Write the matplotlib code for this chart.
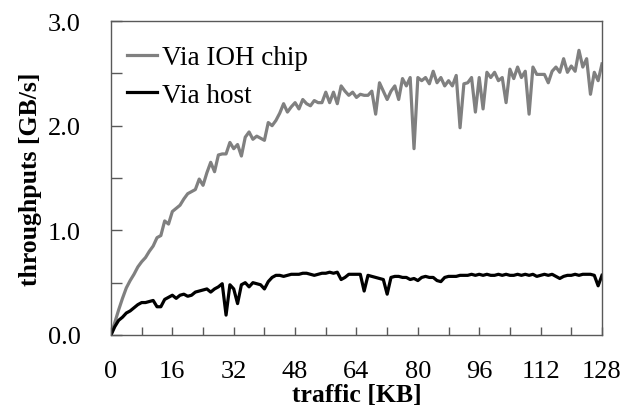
import numpy as np
import matplotlib
matplotlib.use("Agg")
import matplotlib.pyplot as plt

plt.rcParams['font.family'] = ['Liberation Serif', 'DejaVu Serif']

traffic_kb = np.arange(0, 129)

via_ioh = [
    0.00, 0.12, 0.24, 0.35, 0.45, 0.52, 0.58, 0.65, 0.70, 0.74,
    0.80, 0.85, 0.93, 0.95, 1.09, 1.06, 1.18, 1.21, 1.24, 1.30,
    1.35, 1.37, 1.39, 1.49, 1.43, 1.55, 1.65, 1.56, 1.72, 1.73,
    1.73, 1.84, 1.78, 1.82, 1.71, 1.89, 1.94, 1.87, 1.90, 1.88,
    1.86, 2.03, 2.00, 2.05, 2.12, 2.21, 2.13, 2.18, 2.22, 2.16,
    2.25, 2.21, 2.19, 2.24, 2.22, 2.22, 2.32, 2.22, 2.32, 2.21,
    2.38, 2.33, 2.29, 2.32, 2.27, 2.30, 2.29, 2.29, 2.33, 2.11,
    2.41, 2.33, 2.25, 2.33, 2.38, 2.25, 2.45, 2.38, 2.46, 1.78,
    2.46, 2.43, 2.46, 2.40, 2.52, 2.41, 2.46, 2.38, 2.43, 2.38,
    2.48, 1.98, 2.40, 2.41, 2.46, 2.13, 2.46, 2.16, 2.51, 2.46,
    2.51, 2.43, 2.46, 2.22, 2.54, 2.45, 2.56, 2.46, 2.52, 2.11,
    2.56, 2.49, 2.49, 2.49, 2.41, 2.52, 2.56, 2.51, 2.64, 2.51,
    2.57, 2.52, 2.72, 2.56, 2.64, 2.30, 2.51, 2.43, 2.59,
]

via_host = [
    0.00, 0.08, 0.14, 0.17, 0.21, 0.23, 0.26, 0.29, 0.31, 0.31,
    0.32, 0.33, 0.27, 0.27, 0.34, 0.36, 0.38, 0.35, 0.38, 0.39,
    0.37, 0.38, 0.41, 0.42, 0.43, 0.44, 0.41, 0.44, 0.46, 0.49,
    0.19, 0.48, 0.44, 0.30, 0.48, 0.50, 0.46, 0.50, 0.49, 0.48,
    0.44, 0.51, 0.55, 0.57, 0.57, 0.56, 0.57, 0.58, 0.58, 0.58,
    0.59, 0.59, 0.58, 0.57, 0.58, 0.59, 0.59, 0.60, 0.59, 0.60,
    0.53, 0.55, 0.58, 0.58, 0.58, 0.58, 0.42, 0.57, 0.56, 0.55,
    0.54, 0.53, 0.39, 0.55, 0.56, 0.56, 0.55, 0.55, 0.53, 0.54,
    0.52, 0.55, 0.56, 0.55, 0.55, 0.52, 0.51, 0.55, 0.56, 0.56,
    0.56, 0.57, 0.57, 0.57, 0.58, 0.57, 0.58, 0.57, 0.58, 0.57,
    0.57, 0.58, 0.57, 0.58, 0.57, 0.57, 0.58, 0.57, 0.58, 0.57,
    0.58, 0.56, 0.57, 0.58, 0.57, 0.58, 0.56, 0.54, 0.56, 0.57,
    0.57, 0.58, 0.57, 0.58, 0.58, 0.58, 0.57, 0.47, 0.57,
]

x_ticks = [0, 16, 32, 48, 64, 80, 96, 112, 128]
y_ticks = [0.0, 1.0, 2.0, 3.0]

fig = plt.figure(figsize=(6.36, 4.10), dpi=100)
ax = fig.add_axes([0.1745, 0.1805, 0.772, 0.7658])

ax.plot(traffic_kb, via_ioh, color="#808080", lw=2.3, label="Via IOH chip")
ax.plot(traffic_kb, via_host, color="black", lw=2.3, label="Via host")

ax.set_xlim(0, 128)
ax.set_ylim(0, 3.0)
ax.set_xticks(x_ticks)
ax.set_xticks(np.arange(0, 129, 8), minor=True)
ax.set_yticks(y_ticks)
ax.set_yticks(np.arange(0, 3.01, 0.5), minor=True)
ax.set_xticklabels([str(t) for t in x_ticks])
ax.set_yticklabels([f"{t:.1f}" for t in y_ticks])

ax.tick_params(axis="both", which="both", direction="in", colors="#595959",
               labelcolor="black", labelsize=19, width=1)
ax.tick_params(axis="x", which="both", length=6, pad=18)
ax.tick_params(axis="y", which="both", length=8, pad=22)
for s in ax.spines.values():
    s.set_color("#595959")
    s.set_linewidth(1)

ax.set_xlabel("traffic [KB]", fontsize=18.5, fontweight="bold", labelpad=1)
ax.set_ylabel("throughputs [GB/s]", fontsize=18.5, fontweight="bold", labelpad=4)

ax.legend(loc="upper left", bbox_to_anchor=(0.011, 0.957), frameon=False,
          fontsize=19.5, handlelength=1.1, handletextpad=0.2,
          labelspacing=0.45, borderaxespad=0)

fig.savefig("out.png", dpi=100)
